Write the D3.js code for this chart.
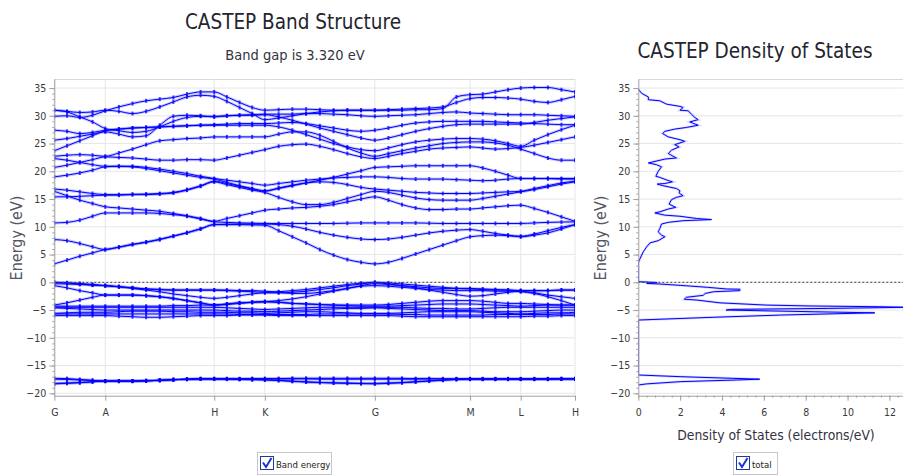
<!DOCTYPE html>
<html>
<head>
<meta charset="utf-8">
<script src="https://cdn.jsdelivr.net/npm/d3@7"></script>
<style>
  body { margin: 0; background: #fff; }
  text { font-family: "DejaVu Sans Condensed", "Liberation Sans Narrow", sans-serif; }
</style>
</head>
<body>
<svg id="chart" width="903" height="475"></svg>
<script>
// k-path (high symmetry points and path length)
var kLabels = ['G', 'A', 'H', 'K', 'G', 'M', 'L', 'H'];
var kPathPos = [0, 0.510, 1.600, 2.107, 3.207, 4.160, 4.667, 5.210];
var kSegmentSteps = [4, 8, 4, 8, 7, 4, 4];

var energyTicks = [-20, -15, -10, -5, 0, 5, 10, 15, 20, 25, 30, 35];
var dosTicks = [0, 2, 4, 6, 8, 10, 12];
var bandGap = 3.320;

// band energies (eV) at each k point, one row per band
var conductionBands = [
  [3.32,4.0,4.7,5.3,5.9, 6.3,6.8,7.2,7.7,8.3,8.9,9.6,10.4, 10.4,10.4,10.35,10.3, 9.3,8.2,7.1,5.9,4.9,4.1,3.6,3.32, 3.6,4.3,5.1,5.9,6.7,7.5,8.2, 8.4,8.5,8.4,8.2, 8.5,8.9,9.6,10.4],
  [7.7,7.5,7.0,6.4,5.9, 6.35,6.85,7.25,7.75,8.35,8.95,9.65,10.4, 10.45,10.5,10.5,10.5, 10.4,10.1,9.6,9.0,8.5,8.1,7.8,7.7, 7.8,8.1,8.5,8.9,9.2,9.4,9.5, 9.2,8.8,8.5,8.3, 8.7,9.3,9.9,10.4],
  [10.7,10.8,11.2,11.9,12.5, 12.5,12.5,12.5,12.4,12.2,11.9,11.4,10.9, 10.8,10.7,10.65,10.6, 10.6,10.6,10.6,10.6,10.6,10.65,10.7,10.7, 10.7,10.7,10.7,10.65,10.6,10.6,10.6, 10.6,10.6,10.6,10.6, 10.7,10.8,10.85,10.9],
  [16.4,15.6,14.8,14.2,13.6, 13.4,13.2,13.0,12.8,12.4,12.0,11.5,11.0, 11.5,12.0,12.5,13.0, 13.2,13.4,13.5,13.7,14.0,14.5,15.0,15.4, 14.8,14.0,13.4,13.1,13.1,13.2,13.2, 13.4,13.6,13.8,13.9, 13.3,12.6,11.8,11.0],
  [15.4,15.4,15.5,15.6,15.7, 15.7,15.8,15.8,15.9,16.1,16.6,17.3,18.1, 17.6,17.1,16.6,16.2, 15.3,14.5,14.0,14.0,14.4,15.1,15.8,16.4, 16.2,15.7,15.2,14.9,14.8,14.8,14.8, 15.1,15.5,15.9,16.3, 16.7,17.2,17.7,18.1],
  [16.8,16.6,16.3,16.0,15.8, 15.8,15.85,15.9,16.0,16.2,16.7,17.4,18.2, 17.8,17.3,16.8,16.4, 17.0,17.5,17.9,18.1,18.0,17.6,17.1,16.8, 16.6,16.4,16.2,16.1,16.0,16.0,16.0, 16.1,16.2,16.3,16.4, 16.9,17.4,17.9,18.2],
  [19.0,19.3,19.7,20.2,20.8, 20.9,20.9,20.7,20.4,20.0,19.6,19.1,18.7, 18.4,18.1,17.8,17.5, 17.8,18.1,18.4,18.6,18.8,18.9,19.0,19.0, 18.9,18.7,18.6,18.6,18.6,18.5,18.4, 18.3,18.4,18.6,18.7, 18.7,18.7,18.7,18.7],
  [20.7,21.1,21.6,22.1,22.6, 22.5,22.4,22.2,22.0,22.0,22.1,22.1,22.0, 22.4,22.9,23.4,23.9, 24.5,24.8,24.9,24.5,23.9,23.2,22.6,22.3, 22.7,23.2,23.6,24.0,24.2,24.3,24.4, 24.2,24.0,24.1,24.3, 24.7,25.2,25.7,26.2],
  [22.3,22.0,21.6,21.2,20.9, 20.9,20.8,20.5,20.1,19.7,19.3,18.9,18.6, 18.0,17.4,16.9,16.5, 16.9,17.4,17.9,18.4,18.9,19.5,20.1,20.7, 20.8,20.9,21.0,21.0,21.0,21.0,21.0, 20.6,20.0,19.3,18.7, 18.7,18.7,18.6,18.6],
  [22.7,22.9,23.0,22.9,22.7, 23.3,24.0,24.8,25.5,25.7,25.9,26.0,26.2, 26.2,26.2,26.2,26.2, 26.7,27.1,27.1,26.5,25.4,24.2,23.3,22.7, 23.2,23.7,24.2,24.6,25.0,25.2,25.3, 25.3,25.1,24.7,24.0, 23.2,22.4,22.0,22.0],
  [23.7,24.6,25.5,26.4,27.3, 27.6,27.8,27.9,28.0,28.1,28.2,28.3,28.3, 28.3,28.3,28.3,28.3, 28.0,27.4,26.6,25.8,25.0,24.4,23.9,23.7, 24.2,24.8,25.3,25.6,25.8,25.9,25.9, 25.8,25.5,25.0,24.5, 25.6,26.6,27.5,28.3],
  [25.6,25.9,26.3,26.7,27.1, 26.7,26.2,26.4,28.3,29.9,30.1,30.0,29.8, 30.0,30.1,30.1,30.2, 29.8,29.2,28.5,27.8,27.2,26.6,26.0,25.6, 26.0,26.6,27.2,27.7,28.1,28.4,28.5, 28.5,28.5,28.5,28.5, 28.8,29.2,29.5,29.8],
  [27.4,27.2,26.8,27.0,27.4, 27.6,27.8,27.9,28.0,28.1,28.2,28.3,28.4, 28.5,28.6,28.6,28.6, 28.7,28.8,28.6,28.2,27.8,27.4,27.2,27.4, 27.8,28.3,28.7,28.9,29.0,29.0,29.0, 29.0,28.9,28.8,28.7, 28.6,28.5,28.4,28.4],
  [29.9,30.0,29.7,30.1,30.9, 31.6,32.2,32.7,33.0,33.3,33.9,34.3,34.3, 33.4,32.4,31.5,31.0, 31.1,31.2,31.2,31.1,31.0,31.0,31.0,31.0, 31.0,31.0,31.1,31.1,31.3,33.4,33.8, 33.9,34.3,34.7,35.0, 35.1,35.1,34.7,34.3],
  [31.0,30.7,29.8,28.9,27.7, 27.3,27.0,27.2,28.0,29.0,29.7,29.9,29.9, 30.0,30.1,30.2,30.3, 30.3,30.3,30.4,30.4,30.3,30.2,30.0,29.9, 30.0,30.1,30.2,30.4,30.6,30.7,30.5, 30.4,30.3,30.2,30.2, 30.2,30.1,30.0,29.9],
  [31.0,30.8,30.6,30.7,31.0, 30.8,30.4,30.8,31.6,32.5,33.4,33.7,33.5, 32.6,31.5,30.4,29.3, 29.6,30.0,30.4,30.7,30.9,31.0,31.0,31.0, 31.1,31.2,31.3,31.4,31.6,32.4,33.1, 33.3,33.3,33.2,33.0, 32.6,32.4,32.9,33.5]
];

var valenceBands = [
  [0.0,-0.1,-0.3,-0.5,-0.6, -0.8,-1.0,-1.2,-1.3,-1.4,-1.4,-1.4,-1.4, -1.5,-1.6,-1.7,-1.8, -1.7,-1.5,-1.3,-1.0,-0.7,-0.4,-0.15,0.0, -0.1,-0.3,-0.5,-0.7,-0.9,-1.1,-1.2, -1.3,-1.4,-1.4,-1.5, -1.5,-1.5,-1.4,-1.4],
  [0.0,-0.1,-0.2,-0.4,-0.6, -0.8,-1.1,-1.4,-1.7,-2.1,-2.4,-2.7,-2.9, -2.7,-2.4,-2.1,-1.9, -1.9,-1.8,-1.6,-1.3,-1.0,-0.6,-0.3,-0.05, -0.3,-0.6,-1.0,-1.4,-1.8,-2.2,-2.5, -2.4,-2.1,-1.8,-1.6, -1.9,-2.3,-2.6,-2.9],
  [-0.25,-0.3,-0.4,-0.5,-0.6, -0.8,-1.0,-1.2,-1.3,-1.4,-1.4,-1.4,-1.4, -1.4,-1.5,-1.5,-1.6, -1.8,-2.0,-2.0,-1.8,-1.5,-1.1,-0.6,-0.25, -0.4,-0.6,-0.8,-1.0,-1.1,-1.1,-1.1, -1.2,-1.3,-1.4,-1.5, -1.5,-1.5,-1.4,-1.4],
  [-0.6,-1.0,-1.5,-1.9,-2.3, -2.3,-2.3,-2.4,-2.6,-2.9,-3.3,-3.7,-4.1, -3.9,-3.7,-3.6,-3.5, -3.3,-3.0,-2.6,-2.1,-1.6,-1.1,-0.7,-0.6, -0.7,-0.9,-1.1,-1.3,-1.4,-1.5,-1.5, -1.5,-1.6,-1.6,-1.7, -2.0,-2.6,-3.3,-4.1],
  [-4.1,-3.7,-3.2,-2.7,-2.3, -2.3,-2.3,-2.4,-2.6,-2.9,-3.3,-3.7,-4.1, -4.0,-3.8,-3.6,-3.5, -3.6,-3.8,-3.9,-4.0,-4.1,-4.1,-4.1,-4.1, -4.0,-3.8,-3.6,-3.4,-3.3,-3.3,-3.3, -3.4,-3.6,-3.8,-3.8, -3.9,-4.0,-4.1,-4.1],
  [-4.3,-4.3,-4.3,-4.3,-4.3, -4.3,-4.3,-4.3,-4.3,-4.2,-4.2,-4.1,-4.1, -3.9,-3.7,-3.6,-3.5, -3.6,-3.8,-3.9,-4.0,-4.1,-4.2,-4.3,-4.3, -4.3,-4.2,-4.1,-4.0,-3.9,-3.9,-3.9, -4.0,-4.1,-4.2,-4.3, -4.2,-4.1,-4.1,-4.1],
  [-4.5,-4.5,-4.5,-4.5,-4.5, -4.5,-4.5,-4.5,-4.5,-4.5,-4.5,-4.5,-4.5, -4.6,-4.7,-4.8,-4.9, -4.8,-4.7,-4.6,-4.5,-4.5,-4.5,-4.5,-4.5, -4.5,-4.5,-4.6,-4.7,-4.7,-4.8,-4.8, -4.7,-4.6,-4.5,-4.5, -4.5,-4.5,-4.5,-4.5],
  [-4.6,-4.7,-4.8,-4.9,-5.0, -5.0,-5.0,-5.0,-5.0,-5.0,-5.0,-5.0,-5.0, -5.1,-5.2,-5.2,-5.3, -5.2,-5.1,-5.0,-4.9,-4.8,-4.7,-4.7,-4.6, -4.7,-4.8,-4.9,-5.0,-5.1,-5.1,-5.1, -5.2,-5.3,-5.3,-5.3, -5.2,-5.1,-5.0,-5.0],
  [-5.6,-5.5,-5.4,-5.4,-5.4, -5.3,-5.2,-5.2,-5.2,-5.3,-5.3,-5.4,-5.4, -5.4,-5.5,-5.5,-5.6, -5.5,-5.4,-5.3,-5.3,-5.4,-5.5,-5.6,-5.6, -5.6,-5.5,-5.4,-5.3,-5.3,-5.3,-5.3, -5.4,-5.5,-5.6,-5.7, -5.6,-5.5,-5.5,-5.4],
  [-5.7,-5.7,-5.7,-5.7,-5.7, -5.7,-5.7,-5.7,-5.7,-5.7,-5.7,-5.7,-5.7, -5.7,-5.8,-5.8,-5.8, -5.8,-5.8,-5.8,-5.7,-5.7,-5.7,-5.7,-5.7, -5.7,-5.8,-5.8,-5.9,-5.9,-5.9,-5.9, -5.9,-5.8,-5.8,-5.8, -5.8,-5.8,-5.7,-5.7],
  [-6.0,-6.0,-6.0,-6.0,-6.0, -6.1,-6.2,-6.3,-6.3,-6.2,-6.1,-6.0,-6.0, -6.0,-5.9,-5.9,-5.9, -6.0,-6.0,-6.0,-6.0,-6.0,-6.0,-6.0,-6.0, -6.0,-6.1,-6.2,-6.2,-6.2,-6.2,-6.2, -6.2,-6.2,-6.2,-6.2, -6.1,-6.1,-6.0,-6.0]
];

var coreBands = [
  [-17.3,-17.35,-17.5,-17.65,-17.8, -17.8,-17.8,-17.75,-17.65,-17.55,-17.45,-17.4,-17.4, -17.4,-17.4,-17.35,-17.35, -17.35,-17.3,-17.3,-17.3,-17.3,-17.3,-17.3,-17.3, -17.3,-17.3,-17.35,-17.35,-17.4,-17.4,-17.4, -17.4,-17.4,-17.4,-17.4, -17.4,-17.4,-17.4,-17.4],
  [-17.45,-17.5,-17.6,-17.7,-17.8, -17.8,-17.8,-17.75,-17.65,-17.55,-17.45,-17.4,-17.4, -17.4,-17.4,-17.4,-17.4, -17.4,-17.4,-17.4,-17.45,-17.45,-17.45,-17.45,-17.45, -17.45,-17.45,-17.45,-17.4,-17.4,-17.4,-17.4, -17.4,-17.4,-17.4,-17.4, -17.4,-17.4,-17.4,-17.4],
  [-18.2,-18.15,-18.05,-17.9,-17.8, -17.8,-17.8,-17.75,-17.65,-17.55,-17.45,-17.4,-17.4, -17.45,-17.5,-17.55,-17.6, -17.7,-17.85,-17.95,-18.05,-18.1,-18.15,-18.2,-18.2, -18.15,-18.05,-17.9,-17.75,-17.6,-17.5,-17.45, -17.45,-17.45,-17.45,-17.45, -17.45,-17.45,-17.4,-17.4],
  [-18.3,-18.2,-18.1,-17.95,-17.8, -17.8,-17.8,-17.75,-17.65,-17.55,-17.45,-17.4,-17.4, -17.4,-17.45,-17.5,-17.55, -17.65,-17.8,-17.95,-18.05,-18.15,-18.2,-18.25,-18.3, -18.2,-18.1,-17.95,-17.8,-17.65,-17.5,-17.45, -17.45,-17.45,-17.45,-17.45, -17.45,-17.45,-17.4,-17.4]
];

// total density of states (electrons/eV) against energy (eV)
var dosEnergy = [
  -18.5,-18.3,-17.9,-17.6,-17.45,-17.3,-17.0,-16.7,
  -6.8,-6.7,-6.3,-5.9,-5.5,-5.3,-5.0,-4.88,-4.7,-4.5,-4.4,-4.27,-4.1,-3.7,-3.2,-3.05,-2.7,-2.35,-2.0,-1.7,-1.5,-1.25,-1.2,-0.9,-0.55,-0.3,-0.2,-0.05,0.0,0.1,0.2,
  3.3,3.5,4.0,4.9,5.5,6.4,7.1,7.5,8.2,8.5,9.1,9.7,10.5,10.8,11.1,11.3,11.5,11.9,12.1,12.5,12.7,13.2,13.5,14.1,14.9,15.3,15.6,16.1,16.5,16.9,17.4,17.7,17.8,18.1,18.4,18.9,19.1,20.0,20.8,21.2,21.5,22.2,22.4,23.2,23.8,24.4,24.8,25.4,25.7,26.2,26.8,27.2,27.6,27.9,28.3,28.9,29.3,29.7,30.3,30.9,31.0,31.5,31.7,32.1,32.7,32.9,33.4,34.05,34.8
];
var dosTotal = [
  0,0.4,2.0,4.7,5.8,4.5,2.0,0,
  0,0.7,3.6,6.8,11.3,8.3,4.2,4.4,9.1,12.9,11.5,8.3,6.1,3.9,2.8,2.2,2.3,3.1,3.2,3.6,4.85,4.85,4.2,3.3,2.0,1.0,0.4,0.9,0.6,0.1,0,
  0,0,0.05,0.16,0.24,0.4,0.56,0.95,1.27,1.11,0.95,1.03,1.11,1.43,2.14,3.5,2.78,1.99,1.27,0.79,1.03,1.43,1.79,1.47,1.59,1.82,2.14,1.95,1.99,1.82,1.19,0.9,1.27,1.63,1.38,1.03,0.84,0.95,1.11,0.87,0.48,1.27,1.82,1.43,1.59,1.95,1.74,2.22,1.99,1.43,1.16,1.27,1.74,2.3,2.86,2.46,2.86,2.7,2.54,2.38,1.99,2.14,1.99,1.35,1.03,0.48,0.48,0.16,0
];

var svg = d3.select('#chart');
var bandPlot = { left: 54.3, right: 575, top: 79, bottom: 395.7 };
var dosPlot = { left: 638.3, right: 903, top: 79, bottom: 395.7 };

var energyY = d3.scaleLinear().domain([-20.43, 36.63]).range([bandPlot.bottom, bandPlot.top]);
var bandX = d3.scaleLinear().domain([kPathPos[0], kPathPos[kPathPos.length - 1]]).range([bandPlot.left, bandPlot.right]);
var dosX = d3.scaleLinear().domain([0, 12.65]).range([dosPlot.left, dosPlot.right]);

// k grid along the path
var kGrid = [kPathPos[0]];
kSegmentSteps.forEach(function(n, s) {
  var a = kPathPos[s], b = kPathPos[s + 1];
  for (var i = 1; i <= n; i++) kGrid.push(a + (b - a) * i / n);
});

var gridColor = '#e6e6e6';
var axisColor = '#a0a0a0';
var labelColor = '#3a3a3a';
var bandColor = '#0000ff';

var defs = svg.append('defs');
defs.append('clipPath').attr('id', 'clipBand').append('rect')
  .attr('x', bandPlot.left).attr('y', bandPlot.top)
  .attr('width', bandPlot.right - bandPlot.left).attr('height', bandPlot.bottom - bandPlot.top);
defs.append('clipPath').attr('id', 'clipDos').append('rect')
  .attr('x', dosPlot.left).attr('y', dosPlot.top)
  .attr('width', dosPlot.right - dosPlot.left).attr('height', dosPlot.bottom - dosPlot.top);

function drawFrame(p) {
  var g = svg.append('g');
  g.selectAll('line.hgrid').data(energyTicks).enter().append('line')
    .attr('x1', p.left).attr('x2', p.right)
    .attr('y1', function(d) { return energyY(d); }).attr('y2', function(d) { return energyY(d); })
    .attr('stroke', gridColor);
  g.append('line').attr('x1', p.left).attr('x2', p.right).attr('y1', p.top + 0.5).attr('y2', p.top + 0.5)
    .attr('stroke', '#d8d8d8');
  return g;
}

function styleAxis(g) {
  g.select('.domain').attr('stroke', axisColor);
  g.selectAll('.tick line').attr('stroke', axisColor);
  g.selectAll('.tick text').attr('fill', labelColor).style('font-size', '10.5px')
    .style('font-family', '"DejaVu Sans Condensed", sans-serif');
}

function energyAxis(x) {
  svg.append('g').attr('transform', 'translate(' + x + ',0)')
    .call(d3.axisLeft(energyY).tickValues(d3.range(-20, 36, 1)).tickSize(2).tickFormat(''))
    .call(function(g) { g.select('.domain').remove(); g.selectAll('line').attr('stroke', axisColor); });
  svg.append('g').attr('transform', 'translate(' + x + ',0)')
    .call(d3.axisLeft(energyY).tickValues(energyTicks).tickSize(5).tickPadding(3).tickSizeOuter(0))
    .call(styleAxis);
}

// ---- band structure ----
var bandFrame = drawFrame(bandPlot);
bandFrame.selectAll('line.vgrid').data(kPathPos).enter().append('line')
  .attr('x1', function(d) { return bandX(d); }).attr('x2', function(d) { return bandX(d); })
  .attr('y1', bandPlot.top).attr('y2', bandPlot.bottom)
  .attr('stroke', gridColor);

var bandLine = d3.line()
  .x(function(d, i) { return bandX(kGrid[i]); })
  .y(function(d) { return energyY(d); })
  .curve(d3.curveMonotoneX);

var allBands = coreBands.concat(valenceBands, conductionBands);
var bandLayer = svg.append('g').attr('clip-path', 'url(#clipBand)');

bandLayer.selectAll('path.halo').data(allBands).enter().append('path')
  .attr('d', bandLine).attr('fill', 'none')
  .attr('stroke', '#6b6bff').attr('stroke-opacity', 0.35).attr('stroke-width', 3);
bandLayer.selectAll('path.band').data(allBands).enter().append('path')
  .attr('d', bandLine).attr('fill', 'none')
  .attr('stroke', bandColor).attr('stroke-width', 1);
allBands.forEach(function(band) {
  bandLayer.append('g').selectAll('rect').data(band).enter().append('rect')
    .attr('x', function(d, i) { return bandX(kGrid[i]) - 1; })
    .attr('y', function(d) { return energyY(d) - 2; })
    .attr('width', 2).attr('height', 4)
    .attr('fill', bandColor).attr('fill-opacity', 0.75);
});

svg.append('line')
  .attr('x1', bandPlot.left).attr('x2', bandPlot.right)
  .attr('y1', energyY(0)).attr('y2', energyY(0))
  .attr('stroke', '#404040').attr('stroke-dasharray', '2,2');

energyAxis(bandPlot.left);
svg.append('g').attr('transform', 'translate(0,' + bandPlot.bottom + ')')
  .call(d3.axisBottom(bandX).tickValues(kPathPos).tickSize(5).tickPadding(8).tickSizeOuter(0)
    .tickFormat(function(d, i) { return kLabels[i]; }))
  .call(styleAxis);

svg.append('text').attr('x', 293).attr('y', 29).attr('text-anchor', 'middle')
  .style('font-size', '20.5px').attr('fill', '#24242e').text('CASTEP Band Structure');
svg.append('text').attr('x', 295).attr('y', 60).attr('text-anchor', 'middle')
  .style('font-size', '14.5px').attr('fill', '#33333d').text('Band gap is ' + bandGap.toFixed(3) + ' eV');
svg.append('text').attr('transform', 'translate(22,238) rotate(-90)').attr('text-anchor', 'middle')
  .style('font-size', '16px').attr('fill', '#55555f').text('Energy (eV)');

// ---- density of states ----
drawFrame(dosPlot);
var dosLine = d3.line()
  .x(function(d) { return dosX(d); })
  .y(function(d, i) { return energyY(dosEnergy[i]); });
var dosLayer = svg.append('g').attr('clip-path', 'url(#clipDos)');
dosLayer.append('path').datum(dosTotal).attr('d', dosLine).attr('fill', 'none')
  .attr('stroke', '#6b6bff').attr('stroke-opacity', 0.3).attr('stroke-width', 2.5);
dosLayer.append('path').datum(dosTotal).attr('d', dosLine).attr('fill', 'none')
  .attr('stroke', bandColor).attr('stroke-width', 1);

svg.append('line')
  .attr('x1', dosPlot.left).attr('x2', dosPlot.right)
  .attr('y1', energyY(0)).attr('y2', energyY(0))
  .attr('stroke', '#404040').attr('stroke-dasharray', '2,2');

energyAxis(dosPlot.left);
svg.append('g').attr('transform', 'translate(0,' + dosPlot.bottom + ')')
  .call(d3.axisBottom(dosX).tickValues(d3.range(0, 12.65, 0.4)).tickSize(2).tickFormat(''))
  .call(function(g) { g.select('.domain').remove(); g.selectAll('line').attr('stroke', axisColor); });
svg.append('g').attr('transform', 'translate(0,' + dosPlot.bottom + ')')
  .call(d3.axisBottom(dosX).tickValues(dosTicks).tickSize(5).tickPadding(8).tickSizeOuter(0))
  .call(styleAxis);

svg.append('text').attr('x', 755).attr('y', 58).attr('text-anchor', 'middle')
  .style('font-size', '20.5px').attr('fill', '#24242e').text('CASTEP Density of States');
svg.append('text').attr('x', 776).attr('y', 440).attr('text-anchor', 'middle')
  .style('font-size', '13.8px').attr('fill', '#33333d').text('Density of States (electrons/eV)');
svg.append('text').attr('transform', 'translate(606,238) rotate(-90)').attr('text-anchor', 'middle')
  .style('font-size', '16px').attr('fill', '#55555f').text('Energy (eV)');

// ---- legends ----
function legend(x, w, label) {
  var g = svg.append('g').attr('transform', 'translate(' + x + ',452)');
  g.append('rect').attr('x', 0.5).attr('y', 0.5).attr('width', w).attr('height', 22)
    .attr('fill', '#fff').attr('stroke', '#c8c8c8');
  g.append('rect').attr('x', 3.5).attr('y', 4.5).attr('width', 13).attr('height', 13)
    .attr('fill', '#fff').attr('stroke', '#1c3c9c');
  g.append('path').attr('d', 'M6,10.5 L9,15 L14.5,6').attr('fill', 'none')
    .attr('stroke', '#1f2fd8').attr('stroke-width', 2);
  g.append('text').attr('x', 19).attr('y', 15.5).style('font-size', '9.5px')
    .attr('fill', '#222').text(label);
}
legend(257, 74, 'Band energy');
legend(733, 44, 'total');
</script>
</body>
</html>
